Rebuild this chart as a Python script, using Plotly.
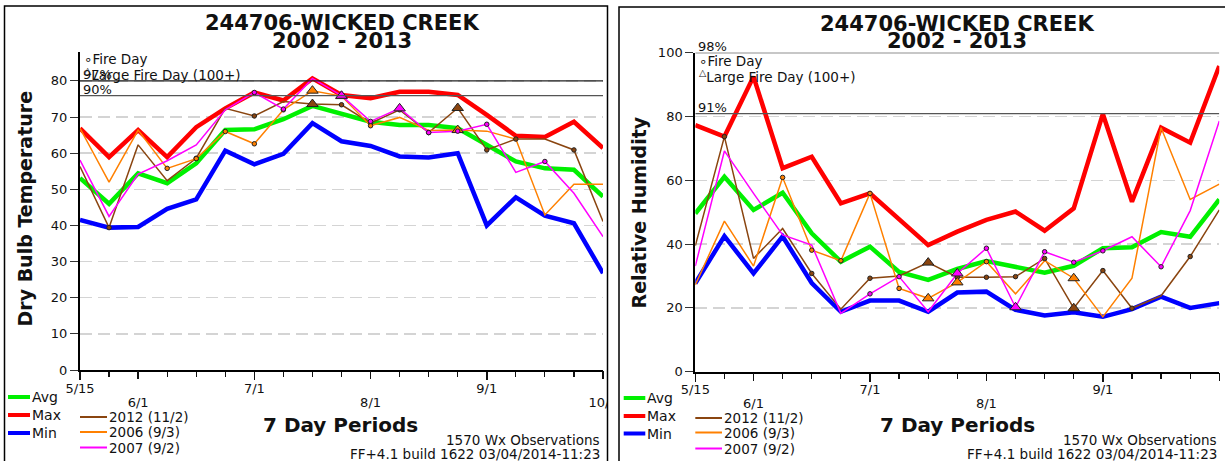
import plotly.graph_objects as go

W, H = 1225, 461

# ---------------- data ----------------
periods = [0, 1, 2, 3, 4, 5, 6, 7, 8, 9, 10, 11, 12, 13, 14, 15, 16, 17, 18]
tick_periods = [0, 2, 6, 10, 14, 18]
tick_labels = ["5/15", "6/1", "7/1", "8/1", "9/1", "10/1"]

series_names = ["Avg", "Max", "Min", "2012 (11/2)", "2006 (9/3)", "2007 (9/2)"]

temp_avg = [53.1, 46.0, 54.4, 51.7, 57.2, 66.4, 66.6, 69.4, 73.1, 70.8, 68.7, 67.8, 67.8, 66.9, 62.3, 57.7, 55.8, 55.4, 48.0]
temp_max = [66.9, 58.9, 66.4, 58.9, 67.2, 72.4, 76.8, 74.6, 80.7, 76.1, 75.2, 77.0, 77.0, 76.1, 70.6, 64.8, 64.5, 68.7, 61.4]
temp_min = [41.5, 39.4, 39.6, 44.6, 47.2, 60.7, 56.9, 59.8, 68.3, 63.3, 62.0, 59.1, 58.8, 60.0, 40.0, 47.8, 42.7, 40.6, 26.8]
temp_2012 = [56.3, 39.4, 62.3, 52.4, 58.6, 72.4, 70.3, 74.3, 73.6, 73.4, 68.3, 72.0, 65.7, 72.5, 60.9, 63.9, 63.9, 60.9, 41.1]
temp_2006 = [66.9, 52.0, 66.4, 55.8, 58.5, 66.0, 62.6, 72.0, 77.3, 75.8, 67.6, 69.9, 66.3, 66.4, 66.1, 63.9, 42.9, 51.4, 51.4]
temp_2007 = [58.1, 42.5, 54.2, 57.9, 62.3, 72.0, 76.8, 72.2, 80.7, 75.9, 68.8, 72.4, 65.7, 66.1, 68.0, 54.7, 57.7, 48.9, 36.9]

rh_avg = [49.6, 61.1, 50.7, 56.1, 43.4, 34.5, 39.2, 31.3, 28.8, 32.2, 34.7, 32.8, 31.0, 33.2, 38.7, 39.0, 43.8, 42.3, 54.0]
rh_max = [77.3, 73.7, 92.5, 63.8, 67.4, 52.8, 55.9, 47.6, 39.7, 43.9, 47.6, 50.2, 44.2, 51.2, 80.8, 53.3, 76.5, 71.8, 95.8]
rh_min = [27.7, 42.5, 30.8, 42.4, 27.8, 18.8, 22.3, 22.3, 18.8, 24.8, 25.1, 19.4, 17.6, 18.6, 17.2, 19.6, 23.5, 20.0, 21.5]
rh_2012 = [39.5, 73.7, 35.5, 44.9, 30.8, 19.6, 29.3, 30.0, 34.2, 29.6, 29.6, 29.8, 35.5, 19.9, 31.7, 19.9, 23.8, 36.1, 50.7]
rh_2006 = [27.2, 47.2, 33.1, 60.9, 38.1, 34.8, 55.9, 26.1, 23.0, 28.0, 34.5, 24.4, 34.8, 29.3, 17.2, 29.3, 76.5, 54.0, 58.8]
rh_2007 = [33.1, 69.2, 55.9, 42.9, 39.7, 18.3, 24.4, 29.8, 18.8, 30.8, 38.7, 20.2, 37.6, 34.3, 37.9, 42.3, 32.9, 50.5, 78.6]

# fire day / large fire day period indices for 2012, 2006, 2007
fire_days = [[1, 4, 6, 9, 10, 11, 12, 14, 15, 17], [3, 4, 5, 6, 7, 10], [6, 7, 10, 12, 13, 14, 16]]
large_fire_days = [[8, 13], [8, 9, 13], [9, 11]]

temp_pct_vals = [80.0, 75.9]
temp_pct_labels = ["97%", "90%"]
rh_pct_vals = [100.0, 80.9]
rh_pct_labels = ["98%", "91%"]

title_line1 = "244706-WICKED CREEK"
title_line2 = "2002 - 2013"
x_title = "7 Day Periods"
footer1 = "1570 Wx Observations"
footer2 = "FF+4.1 build 1622 03/04/2014-11:23"

# ---------------- styling ----------------
FONT = "DejaVu Sans"
TXT = "#111111"
colors = ["#00f000", "#ff0000", "#0000ff", "#8a4510", "#ff8000", "#ff00ff"]
widths = [4.5, 4.5, 4.5, 1.5, 1.5, 1.5]


def pxx(x):
    return x / W


def pxy(y):
    return 1 - y / H


panels = [
    dict(ax="", ax_low="3", series=[temp_avg, temp_max, temp_min, temp_2012, temp_2006, temp_2007],
         pct=temp_pct_vals, pct_lab=temp_pct_labels, ytitle="Dry Bulb Temperature",
         x0=80, x1=603, yb=370, yt=52, yrange=[0, 88], dtick=10,
         frame=(4.5, 6, 607.5), tcx=341.5, ty=(22.5, 40.5), ytx=25, yty=208.5,
         xtc=340.5, foot_r=602, leg_a=(8, 30), leg_y=(80, 107),
         leg_ay=(397, 415, 433), leg_yy=(417, 432, 447.5), fl_x=82, fl_y=(59, 74)),
    dict(ax="2", ax_low="4", series=[rh_avg, rh_max, rh_min, rh_2012, rh_2006, rh_2007],
         pct=rh_pct_vals, pct_lab=rh_pct_labels, ytitle="Relative Humidity",
         x0=695.3, x1=1219.3, yb=371.7, yt=52.7, yrange=[0, 100], dtick=20,
         frame=(619, 7, 1240), tcx=957, ty=(24, 41.5), ytx=638, yty=212.5,
         xtc=957, foot_r=1218.5, leg_a=(623.7, 645.3), leg_y=(695.3, 722),
         leg_ay=(398, 416, 433.5), leg_yy=(418, 432.5, 448.5), fl_x=697, fl_y=(61, 76)),
]

fig = go.Figure()
shapes = []
annotations = []

# white gap between the two panels (clips overflowing tick text)
shapes.append(dict(type="rect", xref="paper", yref="paper", x0=pxx(607.6), x1=pxx(618.4),
                   y0=-0.05, y1=1.05, fillcolor="white", line=dict(width=0), layer="above"))


def ann(text, x, y, size, bold=False, xanchor="center", yanchor="middle", angle=0, color=TXT):
    annotations.append(dict(text=text, x=pxx(x), y=pxy(y), xref="paper", yref="paper",
                            showarrow=False, xanchor=xanchor, yanchor=yanchor, textangle=angle,
                            font=dict(family=FONT, size=size, color=color,
                                      weight="bold" if bold else "normal")))


upper_vals = [t for k, t in enumerate(tick_periods) if k % 2 == 0]
upper_text = [t for k, t in enumerate(tick_labels) if k % 2 == 0]
lower_vals = [t for k, t in enumerate(tick_periods) if k % 2 == 1]
lower_text = [t for k, t in enumerate(tick_labels) if k % 2 == 1]

for p in panels:
    xa, ya = "x" + p["ax"], "y" + p["ax"]
    ser = p["series"]
    for k in range(6):
        fig.add_trace(go.Scatter(x=periods, y=ser[k], mode="lines", name=series_names[k],
                                 line=dict(color=colors[k], width=widths[k]),
                                 xaxis=xa, yaxis=ya, showlegend=False, hoverinfo="skip"))
    for j in range(3):
        vals = ser[3 + j]
        fd = fire_days[j]
        lf = large_fire_days[j]
        fig.add_trace(go.Scatter(x=[periods[i] for i in fd], y=[vals[i] for i in fd], mode="markers",
                                 marker=dict(symbol="circle", size=4.5, color=colors[3 + j],
                                             line=dict(color="#222222", width=1)),
                                 xaxis=xa, yaxis=ya, showlegend=False, hoverinfo="skip",
                                 cliponaxis=False))
        fig.add_trace(go.Scatter(x=[periods[i] for i in lf], y=[vals[i] for i in lf], mode="markers",
                                 marker=dict(symbol="triangle-up", size=10, color=colors[3 + j],
                                             line=dict(color="#222222", width=1)),
                                 xaxis=xa, yaxis=ya, showlegend=False, hoverinfo="skip",
                                 cliponaxis=False))
    # invisible trace that hosts the lower (staggered) tick label axis
    xlow = "x" + p["ax_low"]
    fig.add_trace(go.Scatter(x=[periods[0]], y=[p["yrange"][0]], mode="markers",
                             marker=dict(size=1, opacity=0), xaxis=xlow, yaxis=ya,
                             showlegend=False, hoverinfo="skip"))

    # percentile lines + labels
    for v, lab, c in zip(p["pct"], p["pct_lab"], ["#222222", "#555555"]):
        shapes.append(dict(type="line", xref=xa, yref=ya, x0=periods[0], x1=periods[-1], y0=v, y1=v,
                           line=dict(color=c, width=1.3), layer="above"))
        annotations.append(dict(text=lab, x=periods[0], y=v, xref=xa, yref=ya, showarrow=False,
                                xanchor="left", yanchor="bottom", xshift=1, yshift=-3,
                                font=dict(family=FONT, size=13, color=TXT)))

    # panel frame
    fx0, fy0, fx1 = p["frame"]
    shapes.append(dict(type="rect", xref="paper", yref="paper", x0=pxx(fx0), x1=pxx(fx1),
                       y0=pxy(fy0), y1=-0.1, line=dict(color="black", width=1.5), layer="above"))

    # titles
    ann(title_line1, p["tcx"], p["ty"][0], 21, bold=True)
    ann(title_line2, p["tcx"], p["ty"][1], 21, bold=True)
    ann(p["ytitle"], p["ytx"], p["yty"], 19, bold=True, angle=-90)
    ann(x_title, p["xtc"], 425, 20, bold=True)
    ann(footer1, p["foot_r"], 439.5, 13.5, xanchor="right")
    ann(footer2, p["foot_r"], 454, 13.5, xanchor="right")

    # fire day key
    ann("∘Fire Day", p["fl_x"], p["fl_y"][0], 13.5, xanchor="left")
    ann("<sup>△</sup>Large Fire Day (100+)", p["fl_x"], p["fl_y"][1], 13.5, xanchor="left")

    # series key
    for k in range(3):
        y = p["leg_ay"][k]
        shapes.append(dict(type="line", xref="paper", yref="paper", x0=pxx(p["leg_a"][0]),
                           x1=pxx(p["leg_a"][1]), y0=pxy(y), y1=pxy(y),
                           line=dict(color=colors[k], width=4)))
        ann(series_names[k], p["leg_a"][1], y, 14, xanchor="left")
    for k in range(3):
        y = p["leg_yy"][k]
        shapes.append(dict(type="line", xref="paper", yref="paper", x0=pxx(p["leg_y"][0]),
                           x1=pxx(p["leg_y"][1]), y0=pxy(y), y1=pxy(y),
                           line=dict(color=colors[3 + k], width=2)))
        ann(series_names[3 + k], p["leg_y"][1], y, 13.5, xanchor="left")

    dom = [pxx(p["x0"]), pxx(p["x1"])]
    rng = [periods[0], periods[-1]]
    tfont = dict(family=FONT, size=13, color=TXT)
    xaxis = dict(domain=dom, range=rng, anchor=ya, automargin=False,
                 tickvals=upper_vals, ticktext=upper_text, ticks="outside", ticklen=8,
                 tickwidth=1.5, tickcolor="#111111", showline=True, linecolor="black", linewidth=2,
                 showgrid=False, zeroline=False, tickfont=tfont, ticklabelstandoff=-3,
                 minor=dict(dtick=1, tick0=0, ticks="outside", ticklen=5, tickwidth=1.2,
                            tickcolor="#111111", showgrid=False))
    xaxis_low = dict(overlaying=xa, domain=dom, range=rng, anchor=ya, side="bottom", automargin=False,
                     tickvals=lower_vals, ticktext=lower_text, ticks="outside", ticklen=8,
                     tickwidth=1.5, tickcolor="#111111", showline=False, showgrid=False,
                     zeroline=False, tickfont=tfont, ticklabelstandoff=12)
    yaxis = dict(domain=[pxy(p["yb"]), pxy(p["yt"])], range=p["yrange"], anchor=xa, dtick=p["dtick"],
                 tick0=0, ticks="outside", ticklen=8, tickwidth=1, tickcolor="#333333", automargin=False,
                 showline=True, linecolor="black", linewidth=2, zeroline=False,
                 showgrid=True, gridcolor="#d4d4d4", gridwidth=1.5, griddash="12px,6px",
                 tickfont=tfont)
    fig.layout["xaxis" + p["ax"]] = xaxis
    fig.layout["xaxis" + p["ax_low"]] = xaxis_low
    fig.layout["yaxis" + p["ax"]] = yaxis

fig.update_layout(width=W, height=H, margin=dict(l=0, r=0, t=0, b=0, pad=0, autoexpand=False),
                  autosize=False, paper_bgcolor="white", plot_bgcolor="white", showlegend=False,
                  font=dict(family=FONT, color=TXT), shapes=shapes, annotations=annotations)

fig.write_html("out.html", config={"displayModeBar": False, "staticPlot": True},
               post_script="document.body.style.margin='0';document.body.style.padding='0';"
                           "document.body.style.overflow='hidden';")
